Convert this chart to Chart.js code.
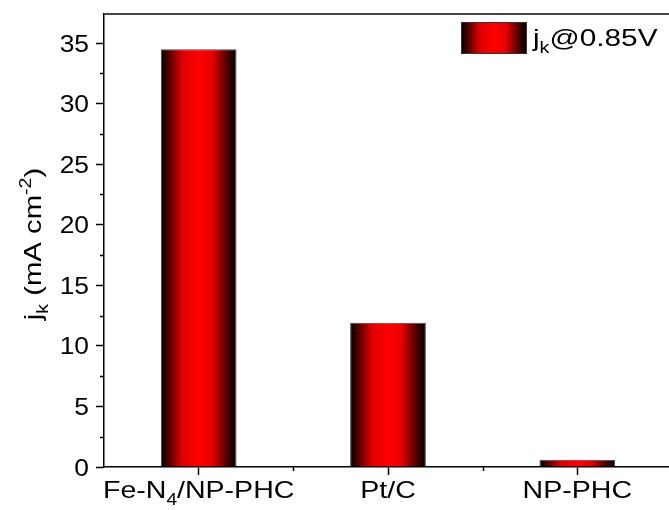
<!DOCTYPE html>
<html>
<head>
<meta charset="utf-8">
<script src="https://cdn.jsdelivr.net/npm/chart.js@4.4.1/dist/chart.umd.min.js"></script>
<style>
  html, body { margin: 0; padding: 0; background: #fff; overflow: hidden; }
  #wrap { width: 669px; height: 510px; overflow: hidden; }
</style>
</head>
<body>
<div id="wrap"><canvas id="js-bar-chart" width="672" height="510"></canvas></div>
<script>
// Chart data
const categories = ['Fe-N_4/NP-PHC', 'Pt/C', 'NP-PHC'];
const jkValues = [34.5, 11.9, 0.6];
const yTicks = [0, 5, 10, 15, 20, 25, 30, 35];
const yMinorTicks = [2.5, 7.5, 12.5, 17.5, 22.5, 27.5, 32.5];
const seriesLabel = 'j_k@0.85V';
const yTitle = 'j_k (mA cm^{-2})';

const FONT = '"Liberation Sans", Arial, sans-serif';
const barPct = 0.4;

// horizontal dark-red-dark shading like the original bars
function shade(ctx, x0, x1) {
  const g = ctx.createLinearGradient(x0, 0, x1, 0);
  g.addColorStop(0, '#000000');
  g.addColorStop(0.08, '#3a0000');
  g.addColorStop(0.28, '#dd0000');
  g.addColorStop(0.5, '#ff0000');
  g.addColorStop(0.68, '#e60000');
  g.addColorStop(0.9, '#3a0000');
  g.addColorStop(1, '#000000');
  return g;
}

// split "a_4b^{-2}" into normal / sub / sup pieces
function parseRich(text) {
  const parts = [];
  let i = 0, buf = '';
  while (i < text.length) {
    const ch = text[i];
    if (ch === '_' || ch === '^') {
      if (buf) { parts.push({ t: buf, m: 'n' }); buf = ''; }
      let s;
      if (text[i + 1] === '{') {
        const end = text.indexOf('}', i);
        s = text.slice(i + 2, end);
        i = end + 1;
      } else {
        s = text[i + 1];
        i += 2;
      }
      parts.push({ t: s, m: ch === '_' ? 'sub' : 'sup' });
    } else {
      buf += ch;
      i++;
    }
  }
  if (buf) parts.push({ t: buf, m: 'n' });
  return parts;
}

// text is a bit wider in the original than plain Arial, so stretch it by sx
function drawRich(ctx, text, x, y, size, align, sx) {
  const parts = parseRich(text);
  const small = Math.round(size * 0.68);
  let total = 0;
  parts.forEach(p => {
    ctx.font = (p.m === 'n' ? size : small) + 'px ' + FONT;
    p.w = ctx.measureText(p.t).width;
    total += p.w;
  });
  let cx = 0;
  if (align === 'center') cx = -total / 2;
  if (align === 'right') cx = -total;
  ctx.save();
  ctx.translate(x, y);
  ctx.scale(sx, 1);
  ctx.textAlign = 'left';
  ctx.textBaseline = 'alphabetic';
  parts.forEach(p => {
    ctx.font = (p.m === 'n' ? size : small) + 'px ' + FONT;
    let dy = 0;
    if (p.m === 'sub') dy = size * 0.28;
    if (p.m === 'sup') dy = -size * 0.42;
    ctx.fillText(p.t, cx, dy);
    cx += p.w;
  });
  ctx.restore();
}

const decorations = {
  id: 'decorations',
  afterDraw(chart) {
    const { ctx, chartArea, scales } = chart;
    const xs = scales.x, ys = scales.y;
    ctx.save();

    // top frame line
    ctx.strokeStyle = '#444';
    ctx.lineWidth = 2;
    ctx.beginPath();
    ctx.moveTo(chartArea.left, chartArea.top);
    ctx.lineTo(chartArea.right, chartArea.top);
    ctx.stroke();

    // minor ticks
    ctx.strokeStyle = '#000';
    ctx.lineWidth = 1.5;
    ctx.beginPath();
    yMinorTicks.forEach(v => {
      const py = Math.round(ys.getPixelForValue(v)) + 0.5;
      ctx.moveTo(chartArea.left, py);
      ctx.lineTo(chartArea.left - 4, py);
    });
    const step = xs.width / categories.length;
    for (let i = 1; i < categories.length; i++) {
      const px = Math.round(chartArea.left + i * step) + 0.5;
      ctx.moveTo(px, chartArea.bottom);
      ctx.lineTo(px, chartArea.bottom + 4);
    }
    ctx.stroke();

    ctx.fillStyle = '#000';

    // y tick labels
    yTicks.forEach(v => {
      drawRich(ctx, String(v), 89, ys.getPixelForValue(v) + 8.5, 24, 'right', 1.1);
    });

    // category labels
    categories.forEach((c, i) => {
      drawRich(ctx, c, xs.getPixelForValue(i), 498, 24, 'center', 1.19);
    });

    // y title
    ctx.save();
    ctx.translate(41, 244);
    ctx.rotate(-Math.PI / 2);
    drawRich(ctx, yTitle, 0, 0, 24, 'center', 1.22);
    ctx.restore();

    // legend
    const lx = 461, ly = 22, lw = 66, lh = 32;
    ctx.fillStyle = shade(ctx, lx, lx + lw);
    ctx.fillRect(lx, ly, lw, lh);
    ctx.strokeStyle = '#333';
    ctx.lineWidth = 1;
    ctx.strokeRect(lx + 0.5, ly + 0.5, lw - 1, lh - 1);
    ctx.fillStyle = '#000';
    drawRich(ctx, seriesLabel, 533, 46, 24, 'left', 1.24);

    ctx.restore();
  }
};

const barChart = new Chart(document.getElementById('js-bar-chart').getContext('2d'), {
  type: 'bar',
  data: {
    labels: categories,
    datasets: [
      {
        label: seriesLabel,
        data: jkValues,
        backgroundColor: (c) => {
          const chart = c.chart;
          if (!chart.chartArea || c.dataIndex === undefined) return '#ff0000';
          const xs = chart.scales.x;
          const cx = xs.getPixelForValue(c.dataIndex);
          const w = (xs.width / categories.length) * barPct;
          return shade(chart.ctx, cx - w / 2, cx + w / 2);
        },
        borderColor: '#444',
        borderWidth: 1,
        barPercentage: barPct,
        categoryPercentage: 1,
      },
    ],
  },
  options: {
    responsive: false,
    animation: false,
    layout: { padding: { top: 14, right: 0, left: 0, bottom: 0 } },
    plugins: { legend: { display: false }, tooltip: { enabled: false } },
    scales: {
      x: {
        grid: { drawOnChartArea: false, offset: false, tickLength: 8, tickColor: '#000', tickWidth: 1.5 },
        border: { color: '#000', width: 1.5 },
        ticks: { callback: () => '' },
        afterFit: (scale) => { scale.height = 43; },
      },
      y: {
        min: 0,
        max: 37.4,
        grid: { drawOnChartArea: false, tickLength: 8, tickColor: '#000', tickWidth: 1.5 },
        border: { color: '#000', width: 1.5 },
        ticks: { callback: () => '' },
        afterBuildTicks: (scale) => { scale.ticks = yTicks.map(v => ({ value: v })); },
        afterFit: (scale) => { scale.width = 104; },
      },
    },
  },
  plugins: [decorations],
});
</script>
</body>
</html>
